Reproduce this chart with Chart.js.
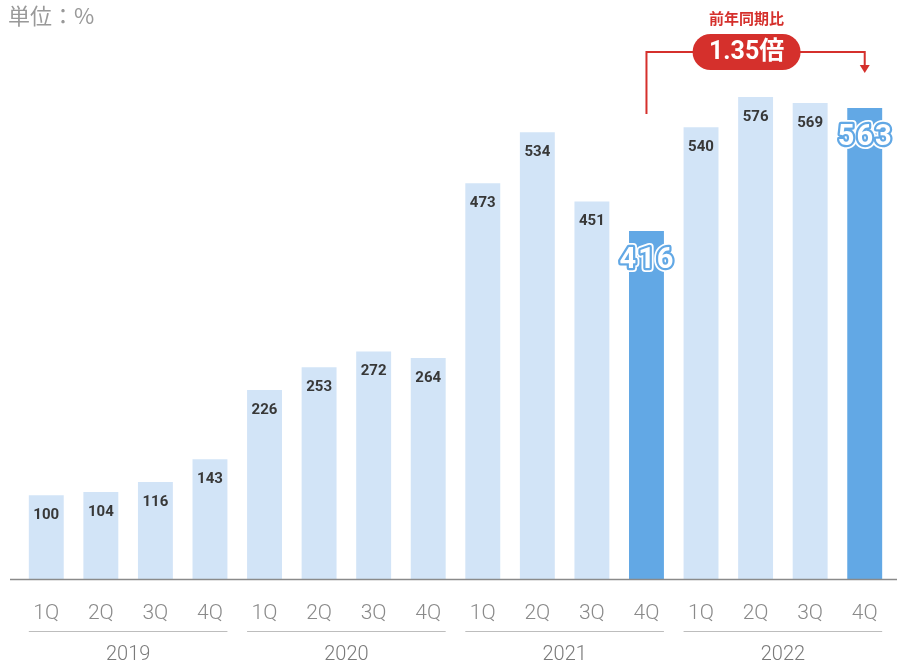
<!DOCTYPE html>
<html>
<head>
<meta charset="utf-8">
<script src="https://cdn.jsdelivr.net/npm/chart.js@4"></script>
<style>
  html, body { margin: 0; padding: 0; background: #fff; }
  #wrap { width: 897px; height: 662px; }
</style>
</head>
<body>
<div id="wrap"><canvas id="chart" width="897" height="662"></canvas></div>
<script>
// quarterly index, 2019 1Q = 100
const quarters = ['1Q', '2Q', '3Q', '4Q', '1Q', '2Q', '3Q', '4Q', '1Q', '2Q', '3Q', '4Q', '1Q', '2Q', '3Q', '4Q'];
const years = ['2019', '2020', '2021', '2022'];
const values = [100, 104, 116, 143, 226, 253, 272, 264, 473, 534, 451, 416, 540, 576, 569, 563];
const highlighted = [11, 15];
const ratioTitle = '前年同期比';
const ratioText = '1.35倍';
const unitText = '単位：%';

const LIGHT = '#d2e4f7';
const DARK = '#62a8e5';
const RED = '#d5302c';

const barColors = values.map((v, i) => highlighted.includes(i) ? DARK : LIGHT);

// big white number with a blue outline and white halo
function outlinedNumber(ctx, text, x, y) {
  ctx.save();
  ctx.font = 'bold 29px Roboto, sans-serif';
  ctx.letterSpacing = '2px';
  ctx.textAlign = 'center';
  ctx.textBaseline = 'middle';
  ctx.lineJoin = 'round';
  ctx.strokeStyle = '#fff';
  ctx.lineWidth = 8;
  ctx.strokeText(text, x + 1, y);
  ctx.strokeStyle = DARK;
  ctx.lineWidth = 4.5;
  ctx.strokeText(text, x + 1, y);
  ctx.fillStyle = '#fff';
  ctx.fillText(text, x + 1, y);
  ctx.restore();
}

const decorations = {
  id: 'decorations',
  afterDatasetsDraw(chart) {
    const { ctx } = chart;
    const bars = chart.getDatasetMeta(0).data;
    const bottom = chart.chartArea.bottom;

    ctx.save();

    // baseline
    ctx.strokeStyle = '#8a8a8a';
    ctx.lineWidth = 1.5;
    ctx.beginPath();
    ctx.moveTo(10, bottom + 0.5);
    ctx.lineTo(897, bottom + 0.5);
    ctx.stroke();

    // value labels
    ctx.textAlign = 'center';
    ctx.textBaseline = 'middle';
    bars.forEach((bar, i) => {
      if (highlighted.includes(i)) {
        outlinedNumber(ctx, String(values[i]), bar.x, bar.y + 30);
      } else {
        ctx.font = 'bold 15px Roboto, sans-serif';
        ctx.fillStyle = '#383838';
        ctx.fillText(values[i], bar.x, bar.y + 20);
      }
    });

    // year groups
    const half = bars[0].width / 2;
    years.forEach((y, g) => {
      const first = bars[g * 4];
      const last = bars[g * 4 + 3];
      ctx.strokeStyle = '#bdbdbd';
      ctx.lineWidth = 1;
      ctx.beginPath();
      ctx.moveTo(first.x - half, 631.5);
      ctx.lineTo(last.x + half, 631.5);
      ctx.stroke();
      ctx.fillStyle = '#7a7a7a';
      ctx.font = '300 20px Roboto, sans-serif';
      ctx.fillText(y, (first.x + last.x) / 2, 655);
    });

    // year-on-year bracket
    const x1 = bars[highlighted[0]].x;
    const x2 = bars[highlighted[1]].x;
    const mid = (x1 + x2) / 2 - 9;
    ctx.strokeStyle = RED;
    ctx.lineWidth = 2;
    ctx.beginPath();
    ctx.moveTo(x1, 114);
    ctx.lineTo(x1, 52);
    ctx.lineTo(x2, 52);
    ctx.lineTo(x2, 67);
    ctx.stroke();
    ctx.fillStyle = RED;
    ctx.beginPath();
    ctx.moveTo(x2 - 5, 65);
    ctx.lineTo(x2 + 5, 65);
    ctx.lineTo(x2, 73);
    ctx.closePath();
    ctx.fill();

    // pill
    const pw = 108, ph = 36;
    ctx.beginPath();
    ctx.roundRect(mid - pw / 2, 52 - ph / 2, pw, ph, ph / 2);
    ctx.fill();
    ctx.fillStyle = '#fff';
    ctx.font = 'bold 25px Roboto, "Noto Sans CJK JP", sans-serif';
    ctx.fillText(ratioText, mid, 53);
    ctx.fillStyle = RED;
    ctx.font = 'bold 15px "Noto Sans CJK JP", sans-serif';
    ctx.fillText(ratioTitle, mid, 18);

    // unit
    ctx.textAlign = 'left';
    ctx.fillStyle = '#999';
    ctx.font = '22px "Noto Sans CJK JP", sans-serif';
    ctx.fillText(unitText, 8, 16);

    ctx.restore();
  }
};

new Chart(document.getElementById('chart'), {
  type: 'bar',
  data: {
    labels: quarters,
    datasets: [{
      data: values,
      backgroundColor: barColors,
      borderWidth: 0,
      categoryPercentage: 1,
      barPercentage: 0.64,
    }],
  },
  options: {
    responsive: false,
    animation: false,
    layout: { padding: { top: 10, left: 19, right: 5, bottom: 0 } },
    plugins: {
      legend: { display: false },
      tooltip: { enabled: false },
    },
    scales: {
      y: {
        display: false,
        min: 0,
        max: 680,
      },
      x: {
        border: { display: false },
        grid: { display: false },
        ticks: {
          color: '#8a8a8a',
          font: { family: 'Roboto, sans-serif', size: 21, weight: 300 },
          padding: 14,
          maxRotation: 0,
          autoSkip: false,
        },
        afterFit(scale) { scale.height = 83; },
      },
    },
  },
  plugins: [decorations],
});
</script>
</body>
</html>
